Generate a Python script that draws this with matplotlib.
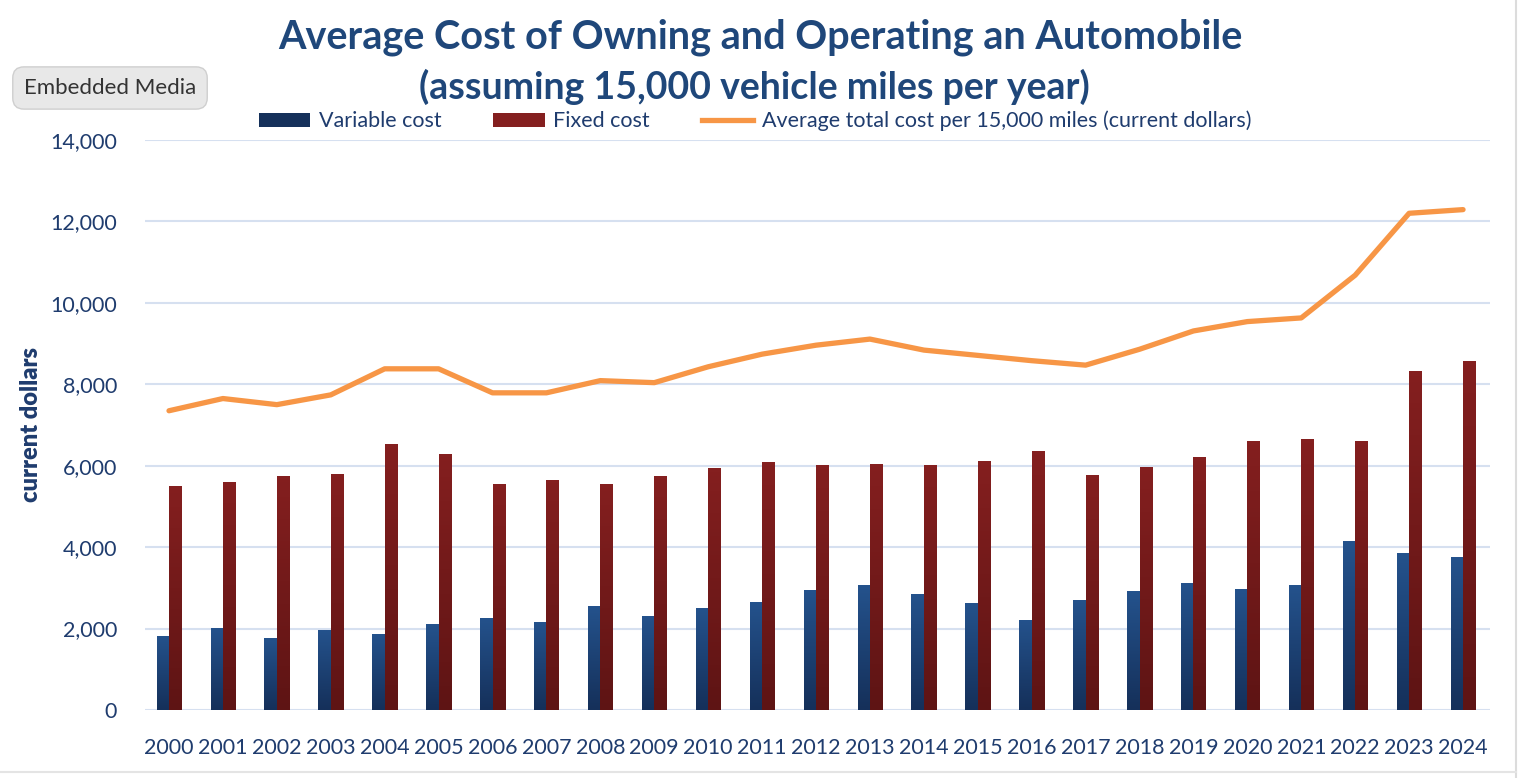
import matplotlib
matplotlib.use("Agg")
import matplotlib.pyplot as plt
import numpy as np
from matplotlib.colors import LinearSegmentedColormap
from matplotlib.lines import Line2D
from matplotlib.patches import Patch

plt.rcParams['font.family'] = ['Lato', 'DejaVu Sans']

years = [str(y) for y in range(2000, 2025)]
variable_cost = [1820, 2010, 1770, 1960, 1870, 2110, 2260, 2160, 2550, 2310, 2500, 2650,
                 2950, 3060, 2860, 2620, 2220, 2710, 2920, 3110, 2960, 3060, 4140, 3850, 3750]
fixed_cost = [5500, 5600, 5750, 5800, 6530, 6290, 5550, 5650, 5550, 5750, 5940, 6090,
              6010, 6050, 6020, 6110, 6360, 5770, 5970, 6210, 6600, 6650, 6600, 8320, 8580]
total_cost = [7350, 7650, 7500, 7740, 8380, 8380, 7790, 7790, 8090, 8040, 8430, 8740,
              8960, 9110, 8840, 8710, 8580, 8470, 8860, 9310, 9540, 9630, 10680, 12200, 12290]

navy = '#1f3c6e'
blue_top, blue_bot = '#24528c', '#15305a'
red_top, red_bot = '#841f1f', '#5e1414'
orange = '#f79646'
grid_c = '#d6e0f0'

fig = plt.figure(figsize=(15.34, 7.78), dpi=100)
ax = fig.add_axes([145 / 1534, 1 - 710 / 778, 1345 / 1534, 570 / 778])

x = np.arange(len(years))
w = 0.23
bars_v = ax.bar(x - w / 2, variable_cost, w, color=blue_top, zorder=2)
bars_f = ax.bar(x + w / 2, fixed_cost, w, color=red_top, zorder=2)

# vertical gradient inside each bar
grad = np.linspace(0, 1, 64).reshape(-1, 1)
for bars, top, bot in [(bars_v, blue_top, blue_bot), (bars_f, red_top, red_bot)]:
    cmap = LinearSegmentedColormap.from_list('g', [bot, top])
    for b in bars:
        bx, by = b.get_x(), b.get_y()
        bw, bh = b.get_width(), b.get_height()
        im = ax.imshow(grad, extent=[bx, bx + bw, by, by + bh], origin='lower',
                       cmap=cmap, aspect='auto', zorder=2.1)
        im.set_clip_path(b)

ax.plot(x, total_cost, color=orange, lw=3.8, solid_capstyle='round', zorder=3)

ax.set_xlim(-0.445, 24.5)
ax.set_ylim(0, 14000)
ax.set_yticks(range(0, 14001, 2000))
ax.set_yticklabels([f'{v:,}' for v in range(0, 14001, 2000)])
ax.set_xticks(x)
ax.set_xticklabels(years)
ax.tick_params(length=0, labelsize=15.5, colors=navy)
ax.tick_params(axis='y', pad=20)
ax.tick_params(axis='x', pad=20)
for s in ax.spines.values():
    s.set_visible(False)
ax.grid(axis='y', color=grid_c, lw=1.5, zorder=0)
ax.set_axisbelow(True)
ax.set_ylabel('current dollars', fontsize=17, fontweight='heavy', color=navy)
ax.yaxis.set_label_coords(-103 / 1345, 0.5)

fig.text(0.496, 1 - 37 / 778, 'Average Cost of Owning and Operating an Automobile',
         ha='center', va='center', fontsize=28.5, fontweight='bold', color='#1f477a')
fig.text(0.492, 1 - 87 / 778, '(assuming 15,000 vehicle miles per year)',
         ha='center', va='center', fontsize=27, fontweight='bold', color='#1f477a')

handles = [Patch(facecolor=blue_bot), Patch(facecolor=red_top),
           Line2D([], [], color=orange, lw=3.8)]
labels = ['Variable cost', 'Fixed cost', 'Average total cost per 15,000 miles (current dollars)']
fig.legend(handles, labels, loc='center', bbox_to_anchor=(755 / 1534, 1 - 121 / 778),
           ncol=3, frameon=False, fontsize=15.5, labelcolor=navy, handlelength=2.4,
           handleheight=0.6, handletextpad=0.4, columnspacing=2.4)

fig.text(110 / 1534, 1 - 88 / 778, 'Embedded Media', ha='center', va='center',
         fontsize=16, color='#333333',
         bbox=dict(boxstyle='round,pad=0.5', fc='#e8e8e8', ec='#cfcfcf'))

fig.add_artist(Line2D([1516 / 1534] * 2, [0, 1], color='#dcdcdc', lw=1.5))
fig.add_artist(Line2D([0, 1516 / 1534], [1 - 772 / 778] * 2, color='#e4e4e4', lw=1.5))

fig.savefig('out.png', dpi=100, facecolor='white')
